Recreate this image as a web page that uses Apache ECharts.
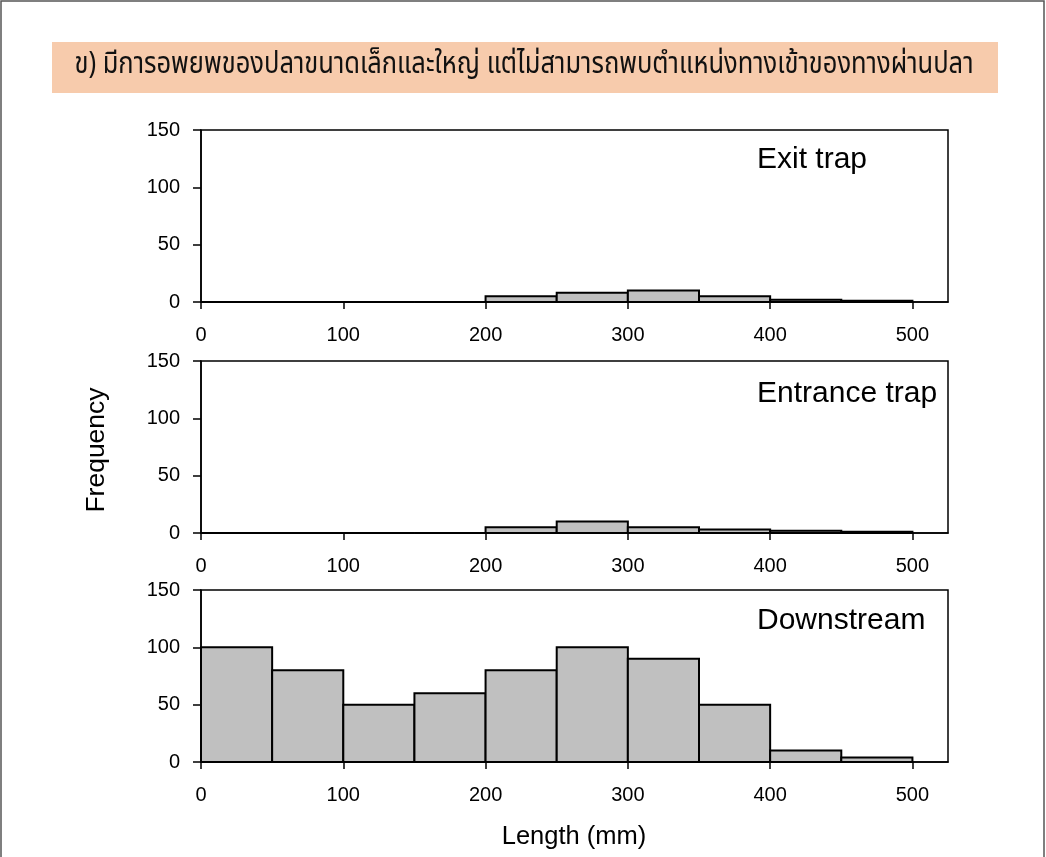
<!DOCTYPE html>
<html><head><meta charset="utf-8">
<script src="https://cdn.jsdelivr.net/npm/echarts@6/dist/echarts.min.js"></script>
<style>html,body{margin:0;padding:0;background:#fff}#c{width:1046px;height:857px}</style>
</head><body><div id="c"></div>
<script>
const binStarts = [0, 50, 100, 150, 200, 250, 300, 350, 400, 450];
const binWidth = 50;
const exitTrap = [0, 0, 0, 0, 5, 8, 10, 5, 2, 1];
const entranceTrap = [0, 0, 0, 0, 5, 10, 5, 3, 2, 1];
const downstream = [100, 80, 50, 60, 80, 100, 90, 50, 10, 4];
const panelNames = ['Exit trap', 'Entrance trap', 'Downstream'];
const xTicks = [0, 100, 200, 300, 400, 500];
const yTicks = [0, 50, 100, 150];
const headline = 'ข) มีการอพยพของปลาขนาดเล็กและใหญ่ แต่ไม่สามารถพบตำแหน่งทางเข้าของทางผ่านปลา';

const panels = [exitTrap, entranceTrap, downstream];
const tops = [130, 361, 590];
const font = 'Liberation Sans, Arial, sans-serif';

const chart = echarts.init(document.getElementById('c'), null, {renderer: 'canvas'});
const grids = tops.map(t => ({left: 201, right: 98, top: t, height: 172, show: true, borderColor: '#000', borderWidth: 1.5, backgroundColor: 'transparent'}));
const xAxes = tops.map((t, i) => ({
  type: 'value', gridIndex: i, min: 0, max: 525, interval: 100,
  axisLine: {show: true, onZero: false, lineStyle: {color: '#000', width: 1.5}},
  axisTick: {show: true, length: 7, inside: false, customValues: xTicks, lineStyle: {color: '#000', width: 1.5}},
  axisLabel: {customValues: xTicks, color: '#000', fontSize: 20, fontFamily: font, margin: 23},
  splitLine: {show: false}
}));
const yAxes = tops.map((t, i) => ({
  type: 'value', gridIndex: i, min: 0, max: 150, interval: 50,
  axisLine: {show: true, lineStyle: {color: '#000', width: 1.5}},
  axisTick: {show: true, length: 8, customValues: yTicks, lineStyle: {color: '#000', width: 1.5}},
  axisLabel: {customValues: yTicks, color: '#000', fontSize: 20, fontFamily: font, margin: 21},
  splitLine: {show: false}
}));
const series = panels.map((vals, i) => ({
  type: 'custom', xAxisIndex: i, yAxisIndex: i,
  data: binStarts.map((b, j) => [b, b + binWidth, vals[j]]),
  encode: {x: [0, 1], y: 2},
  renderItem: function (params, api) {
    const p0 = api.coord([api.value(0), 0]);
    const p1 = api.coord([api.value(1), api.value(2)]);
    return {type: 'rect', shape: {x: p0[0], y: p1[1], width: p1[0] - p0[0], height: p0[1] - p1[1]},
      style: {fill: '#C0C0C0', stroke: '#000', lineWidth: 2}};
  }
}));
const option = {
  animation: false,
  backgroundColor: '#fff',
  grid: grids, xAxis: xAxes, yAxis: yAxes, series: series,
  graphic: [
    {type: 'rect', shape: {x: 1, y: 1, width: 1043, height: 880}, style: {fill: 'none', stroke: '#555', lineWidth: 1.5}, z: 100},
    {type: 'rect', shape: {x: 52, y: 42, width: 946, height: 51}, style: {fill: '#F7CBAC'}, z: 0},
    {type: 'text', x: 524, y: 67, scaleY: 1.2, style: {text: headline, fill: '#111', font: '25.5px "Noto Sans Thai", "Noto Sans", sans-serif', textAlign: 'center', textVerticalAlign: 'middle'}, z: 10},
    ...panelNames.map((n, i) => ({type: 'text', x: 757, y: [160, 394, 621][i], style: {text: n, fill: '#000', font: '30px "Liberation Sans", Arial, sans-serif', textAlign: 'left', textVerticalAlign: 'middle'}, z: 10})),
    {type: 'text', x: 97, y: 450, rotation: Math.PI / 2, style: {text: 'Frequency', fill: '#000', font: '26.5px "Liberation Sans", Arial, sans-serif', textAlign: 'center', textVerticalAlign: 'middle'}, z: 10},
    {type: 'text', x: 574, y: 837, style: {text: 'Length (mm)', fill: '#000', font: '25.5px "Liberation Sans", Arial, sans-serif', textAlign: 'center', textVerticalAlign: 'middle'}, z: 10}
  ]
};
chart.setOption(option);
</script></body></html>
